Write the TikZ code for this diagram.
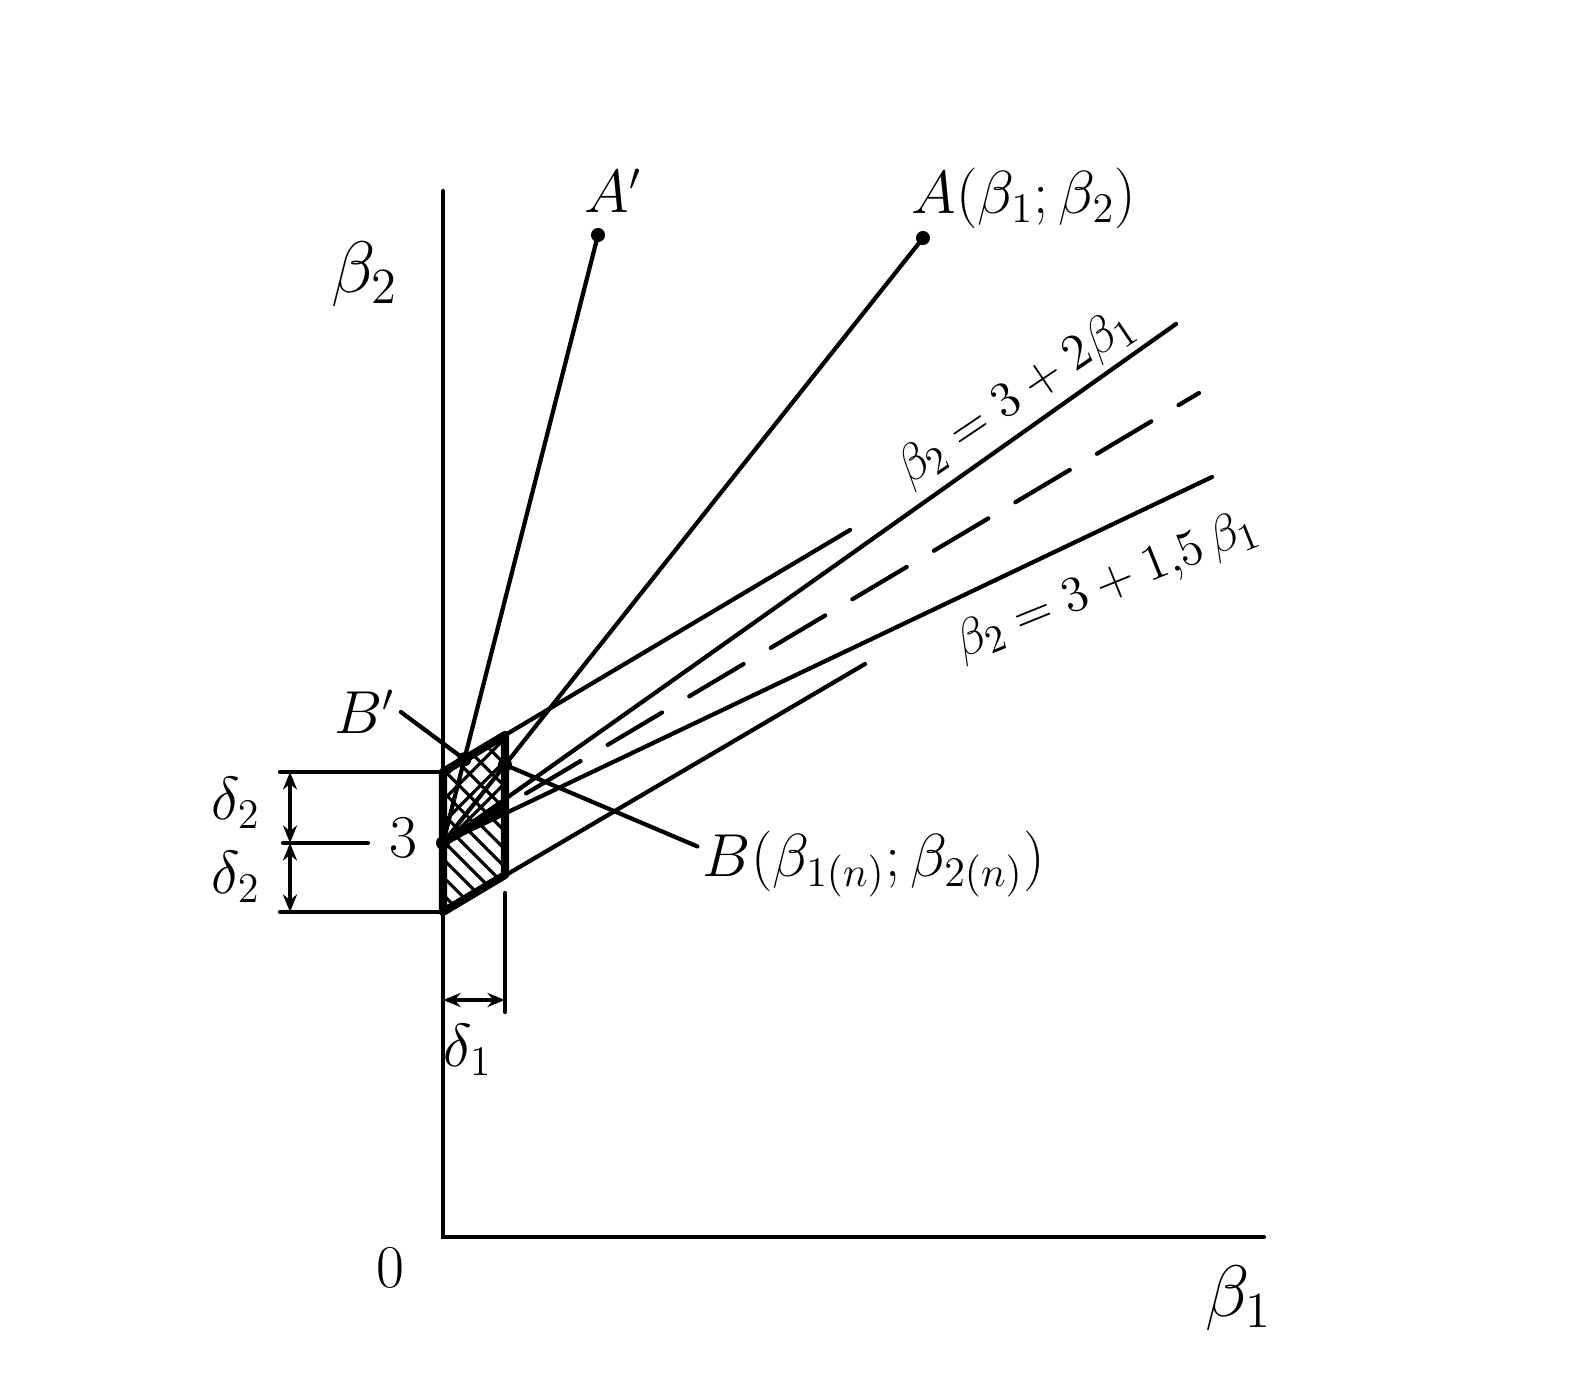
\documentclass[tikz,border=0pt]{standalone}
\usepackage{amsmath}
\usetikzlibrary{patterns.meta,arrows.meta}

\tikzset{
  lbl/.style={font=\fontsize{17}{20}\selectfont, inner sep=1pt},
  axlbl/.style={font=\fontsize{22}{26}\selectfont, inner sep=1pt},
  pt/.style={circle,fill=black,inner sep=0pt,minimum size=4pt},
  dim/.style={line width=1pt,{Stealth[length=5pt,width=4pt]}-{Stealth[length=5pt,width=4pt]}},
  bold/.style={line width=2.3pt,line join=round},
}

\begin{document}
\begin{tikzpicture}[x=0.1mm,y=-0.1mm,line width=1.2pt,line cap=round]
  \useasboundingbox (0,0) rectangle (1590,1400);

  % axes
  \coordinate (O) at (443,1237);
  \coordinate (ytop) at (443,191);
  \coordinate (xend) at (1264,1237);
  \draw (ytop) -- (O) -- (xend);
  \node[lbl] (zero) at (390,1268) {$0$};
  \node[axlbl] (b1) at (1239,1298) {$\beta_1$};
  \node[axlbl] (b2) at (365,274) {$\beta_2$};

  % region around 3
  \coordinate (three) at (443,843);
  \coordinate (up) at (443,772);
  \coordinate (lo) at (443,912);
  \coordinate (TR) at (505,735);
  \coordinate (mid) at (505,806);
  \coordinate (BR) at (505,875);
  \fill[pattern={Lines[angle=45,distance=4.5pt,line width=0.9pt]}] (up) -- (TR) -- (mid) -- (three) -- cycle;
  \fill[pattern={Lines[angle=-45,distance=4.5pt,line width=0.9pt]}] (up) -- (TR) -- (mid) -- (three) -- cycle;
  \fill[pattern={Lines[angle=-45,distance=3.6pt,line width=0.9pt]}] (three) -- (mid) -- (BR) -- (lo) -- cycle;
  \draw[bold] (up) -- (TR) -- (BR) -- (lo) -- cycle;
  \draw[bold] (three) -- (mid);

  % rays
  \coordinate (A) at (923,238);
  \coordinate (Ap) at (598,235);
  \coordinate (eqaend) at (1176,324);
  \coordinate (eqbend) at (1212,477);
  \coordinate (cend) at (1199,393);
  \coordinate (uend) at (850,530);
  \coordinate (lend) at (865,664);
  \draw (three) -- (A);
  \draw (three) -- (Ap);
  \draw (three) -- (eqaend);
  \draw (three) -- (eqbend);
  \draw (up) -- (uend);
  \draw (lo) -- (lend);
  \draw[dash pattern=on 18pt off 9pt,dash phase=-7pt] (mid) -- (cend);

  \coordinate (B) at (intersection of three--A and TR--BR);
  \coordinate (Bp) at (intersection of three--Ap and up--TR);
  \node[pt] (dA) at (A) {};
  \node[pt] (dAp) at (Ap) {};
  \node[pt] (dB) at (B) {};
  \node[pt] (dBp) at (Bp) {};
  \node[pt] (d3) at (three) {};

  % labels
  \node[lbl,font=\fontsize{16}{20}\selectfont] (Aplab) at (613,191) {$A'$};
  \node[lbl] (Alab) at (1024,198) {$A(\beta_1;\beta_2)$};
  \node[lbl,font=\fontsize{16}{20}\selectfont] (Bplab) at (365,712) {$B'$};
  \node[lbl] (Blab) at (874,864) {$B(\beta_{1(n)};\beta_{2(n)})$};
  \draw (Bplab.east) -- (Bp);
  \draw (B) -- ([yshift=5pt]Blab.west);
  \node[lbl,font=\fontsize{15}{18}\selectfont,rotate=34] (eqa) at (1016,398) {$\beta_2=3+2\beta_1$};
  \node[lbl,font=\fontsize{15}{18}\selectfont,rotate=22] (eqb) at (1107,586) {$\beta_2=3+1{,}5\,\beta_1$};

  % delta_2 dimension
  \coordinate (e2t) at (280,772);
  \coordinate (e2b) at (280,912);
  \coordinate (e2m) at (283,843);
  \coordinate (e2r) at (368,843);
  \coordinate (d2t) at (290,772);
  \coordinate (d2m) at (290,843);
  \coordinate (d2b) at (290,912);
  \draw (e2t) -- (up);
  \draw (e2b) -- (lo);
  \draw (e2m) -- (e2r);
  \draw[dim] (d2t) -- (d2m);
  \draw[dim] (d2m) -- (d2b);
  \node[lbl] (n3) at (403,838) {$3$};
  \node[lbl,font=\fontsize{18}{20}\selectfont] (del2a) at (236,803) {$\delta_2$};
  \node[lbl,font=\fontsize{18}{20}\selectfont] (del2b) at (236,877) {$\delta_2$};

  % delta_1 dimension
  \coordinate (e1t) at (505,893);
  \coordinate (e1b) at (505,1012);
  \coordinate (d1l) at (443,1000);
  \coordinate (d1r) at (505,1000);
  \draw (e1t) -- (e1b);
  \draw[dim] (d1l) -- (d1r);
  \node[lbl,font=\fontsize{18}{20}\selectfont] (del1) at (468,1050) {$\delta_1$};
\end{tikzpicture}
\end{document}
